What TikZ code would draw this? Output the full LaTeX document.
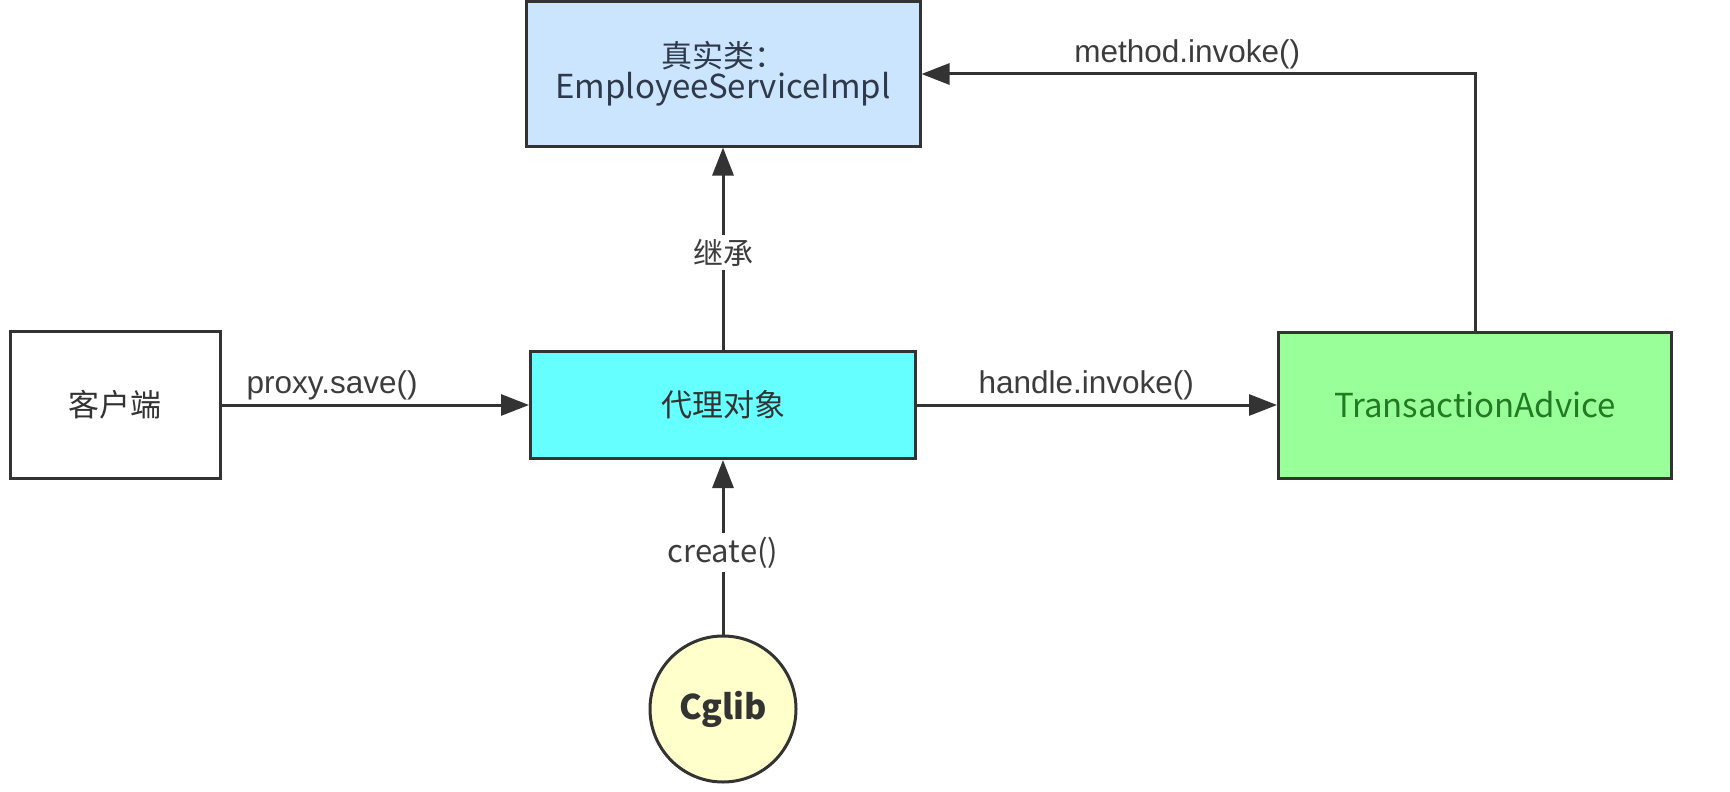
\documentclass[tikz,border=0pt]{standalone}
\usepackage{fontspec}
\setmainfont{Liberation Sans}
\newfontfamily\cjk{Noto Sans CJK SC}
\usetikzlibrary{arrows.meta}
\definecolor{edgec}{HTML}{333333}
\definecolor{lblc}{HTML}{3C3C3C}
\definecolor{realfill}{HTML}{CCE5FF}
\definecolor{realtext}{HTML}{2E3A4A}
\definecolor{proxyfill}{HTML}{66FFFF}
\definecolor{tafill}{HTML}{99FF99}
\definecolor{tatext}{HTML}{227A22}
\definecolor{cgfill}{HTML}{FFFFCC}
\tikzset{
  boxnode/.style={draw=edgec, line width=3pt, inner sep=0pt, align=center,
    font=\cjk\fontsize{31}{31}\selectfont, text=edgec},
  latinbox/.style={font=\cjk\fontsize{33}{31}\selectfont},
  conn/.style={draw=edgec, line width=3pt, -{Triangle[length=28pt,width=21pt]}},
  lbl/.style={font=\fontsize{31.5}{36}\selectfont, text=lblc, inner sep=3pt},
  vlbl/.style={lbl, fill=white, inner sep=4pt}
}
\begin{document}
\begin{tikzpicture}[x=1pt,y=-1pt]
\useasboundingbox (0,0) rectangle (1730,792);
\node[boxnode, fill=realfill, text=realtext, minimum width=394pt, minimum height=144pt] (real) at (723,74) {{\fontsize{31}{31}\selectfont 真实类：}\\{\fontsize{33}{31}\selectfont EmployeeServiceImpl}};
\node[boxnode, fill=white, minimum width=210pt, minimum height=147pt] (client) at (115,405) {客户端};
\node[boxnode, fill=proxyfill, minimum width=385pt, minimum height=107pt] (proxy) at (723,405) {代理对象};
\node[boxnode, latinbox, fill=tafill, text=tatext, minimum width=393pt, minimum height=146pt] (ta) at (1475,405) {TransactionAdvice};
\node[boxnode, circle, fill=cgfill, minimum size=146pt, font=\cjk\bfseries\fontsize{34}{36}\selectfont] (cg) at (723,709) {Cglib};

\draw[conn] (client.east) -- node[lbl, pos=0.36, above] {proxy.save()} (proxy.west);
\draw[conn] (proxy.east) -- node[lbl, pos=0.47, above] {handle.invoke()} (ta.west);
\draw[conn] (ta.north) |- node[lbl, pos=0.76, above] {method.invoke()} (real.east);
\draw[conn] (proxy.north) -- node[vlbl, pos=0.48, font=\cjk\fontsize{30}{34}\selectfont] {继承} (real.south);
\draw[conn] (cg.north) -- node[vlbl, pos=0.47, font=\cjk\fontsize{31}{34}\selectfont] {create()} (proxy.south);
\end{tikzpicture}
\end{document}
